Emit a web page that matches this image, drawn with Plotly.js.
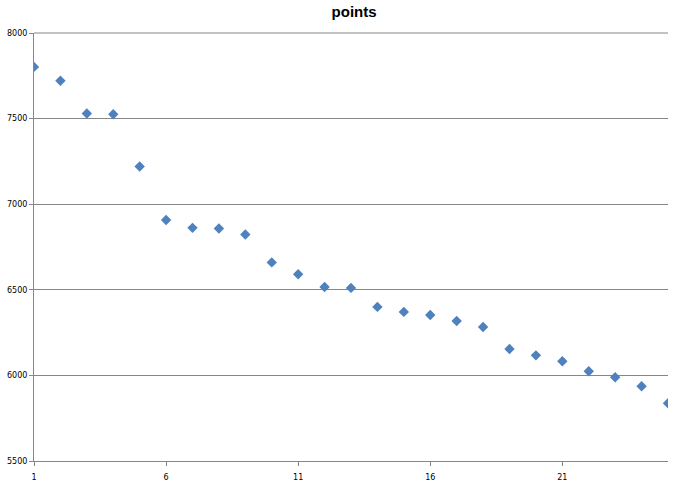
<!DOCTYPE html>
<html>
<head>
<meta charset="utf-8">
<script src="https://cdn.plot.ly/plotly-3.0.1.min.js"></script>
<style>html,body{margin:0;padding:0;background:#fff;}#chart{width:681px;height:489px;}</style>
</head>
<body>
<div id="chart"></div>
<script>
const xValues = [1,2,3,4,5,6,7,8,9,10,11,12,13,14,15,16,17,18,19,20,21,22,23,24,25];
const points = [7802,7721,7530,7525,7220,6908,6862,6858,6823,6660,6591,6516,6511,6400,6371,6353,6318,6283,6154,6117,6083,6024,5989,5937,5837];
const xTicks = [1,6,11,16,21];
const yTicks = [5500,6000,6500,7000,7500,8000];

const trace = {
  x: xValues, y: points, type: 'scatter', mode: 'markers',
  marker: {symbol: 'diamond', size: 8, color: '#4F81BD', line: {width: 0}},
  hoverinfo: 'x+y'
};
const layout = {
  width: 681, height: 489,
  margin: {l: 34, r: 13, t: 33, b: 28},
  paper_bgcolor: '#fff', plot_bgcolor: '#fff',
  showlegend: false,
  title: {text: '<b>points</b>', x: 0.52, xanchor: 'center', y: 0.975, yanchor: 'middle',
          font: {family: 'Liberation Sans, Arial, sans-serif', size: 15, color: '#000'}},
  shapes: [{type: 'line', xref: 'paper', yref: 'paper', x0: 0, x1: 1, y0: 1, y1: 1,
            line: {color: '#868686', width: 1}}],
  xaxis: {
    range: [1, 25], autorange: false,
    tickvals: xTicks, ticktext: xTicks.map(String),
    showgrid: false, zeroline: false,
    showline: true, linecolor: '#868686', linewidth: 1,
    ticks: 'outside', ticklen: 4, tickcolor: '#868686',
    ticklabelstandoff: 4,
    tickfont: {family: 'DejaVu Sans, sans-serif', size: 8, color: '#000'}
  },
  yaxis: {
    range: [5500, 8000], autorange: false,
    tickvals: yTicks, ticktext: yTicks.map(String),
    showgrid: true, gridcolor: '#868686', gridwidth: 1, zeroline: false,
    showline: true, linecolor: '#868686', linewidth: 1,
    ticks: 'outside', ticklen: 4, tickcolor: '#868686',
    tickfont: {family: 'DejaVu Sans, sans-serif', size: 8, color: '#000'}
  }
};
Plotly.newPlot('chart', [trace], layout, {displayModeBar: false, staticPlot: true});
</script>
</body>
</html>
